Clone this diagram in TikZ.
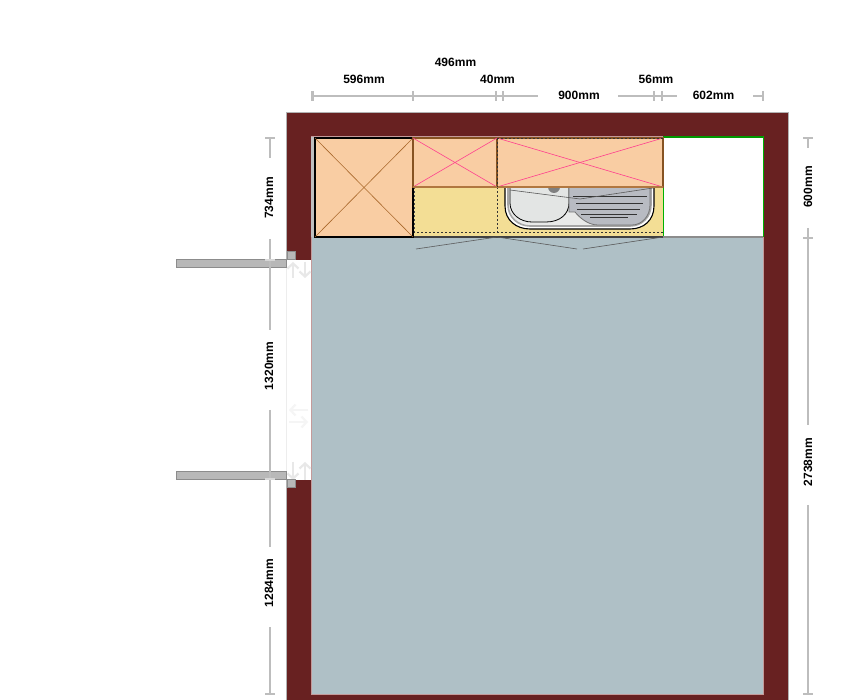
\documentclass[tikz,border=0pt]{standalone}
\usepackage{fontspec}
\setmainfont{Liberation Sans}
\usepackage{xcolor}
\usepackage{tikz}
\usetikzlibrary{positioning}
\usetikzlibrary{arrows.meta}
\definecolor{wallred}{HTML}{682121}
\definecolor{wallrim}{HTML}{C49A9A}
\definecolor{floorblue}{HTML}{AFC0C6}
\definecolor{unitpeach}{HTML}{F9CDA3}
\definecolor{unitbrown}{HTML}{A9682B}
\definecolor{basecream}{HTML}{F3DE95}
\definecolor{crosspink}{HTML}{FF3E8E}
\definecolor{dimgray}{HTML}{BDBDBD}
\definecolor{doorgray}{HTML}{B8B8B8}
\definecolor{sinkleft}{HTML}{E3E5E4}
\definecolor{sinkright}{HTML}{B8BBC2}
\tikzset{dimlabel/.style = {font=\fontsize{12}{14}\bfseries\selectfont, inner sep=0pt}}
\tikzset{dimline/.style = {draw=dimgray, line width=1.6pt}}
\tikzset{wallunit/.style = {rectangle, draw=unitbrown!80!black, line width=1.2pt, fill=unitpeach, inner sep=0pt, outer sep=0pt}}
\tikzset{pinkcross/.style = {draw=crosspink, line width=0.6pt}}
\tikzset{doorleaf/.style = {rectangle, draw=gray!90, line width=1pt, fill=doorgray, inner sep=0pt, outer sep=0pt}}
\tikzset{doorhint/.style = {draw=black!9, line width=2.2pt, -{Straight Barb[length=5pt,width=11pt]}}}
\tikzset{doorhintfaint/.style = {draw=black!4, line width=2.2pt, -{Straight Barb[length=5pt,width=11pt]}}}
\tikzset{frontline/.style = {draw=black!65, line width=0.6pt}}

\begin{document}
\begin{tikzpicture}[x=1pt, y=-1pt]
\useasboundingbox (0, 0) rectangle (860, 700);

% room
\fill [wallred] (286.5, 112) rectangle (788, 700);
\draw [black!30, line width=0.6pt] (286.5, 700) -- (286.5, 112) -- (788, 112) -- (788, 700);
\node [rectangle, draw=wallrim, line width=1pt, fill=floorblue, minimum width=452.5, minimum height=557, inner sep=0pt, outer sep=0pt] (floor) at (537.25, 415.5) {};
\fill [black!25] (311, 137) rectangle (315, 237);

% door gap
\fill [white] (286, 260) rectangle (311, 480);
\draw [black!7, line width=0.6pt] (286, 260) -- (286, 480);
\draw [doorhint] (293, 278) -- (293, 262);
\draw [doorhint] (305, 262) -- (305, 278);
\draw [doorhint] (293, 462) -- (293, 480);
\draw [doorhint] (305, 480) -- (305, 462);
\draw [doorhintfaint] (308, 410) -- (289, 410);
\draw [doorhintfaint] (289, 422) -- (308, 422);
\node [doorleaf, minimum width=110, minimum height=8] (doorA) at (231.5, 264) {};
\node [doorleaf, minimum width=110, minimum height=8] (doorB) at (231.5, 476) {};
\node [doorleaf, minimum size=8] (postA) at (291, 256) {};
\node [doorleaf, minimum size=8] (postB) at (291, 484) {};

% base units and sink
\fill [basecream] (413, 187) rectangle (663, 237);
\draw [black, line width=1.1pt, fill=white] (505, 187) -- (505, 206) .. controls (505, 220) and (516, 229) .. (530, 229) -- (630, 229) .. controls (644, 229) and (654, 220) .. (654, 206) -- (654, 187) -- cycle;
\draw [black!35, line width=1.6pt, fill=sinkleft!80!white] (508, 187) -- (508, 205) .. controls (508, 217) and (518, 226) .. (530, 226) -- (630, 226) .. controls (642, 226) and (651, 217) .. (651, 205) -- (651, 187) -- cycle;
\draw [black, line width=0.8pt, fill=sinkleft] (510, 187) -- (510, 203) .. controls (510, 214) and (520, 222) .. (532, 222) -- (546, 222) .. controls (560, 222) and (569, 214) .. (569, 203) -- (569, 187) -- cycle;
\draw [black!55, line width=0.8pt, fill=sinkright] (569, 187) -- (569, 212) -- (575, 212) .. controls (580, 218) and (588, 225) .. (598, 225) -- (632, 225) .. controls (642, 225) and (650, 216) .. (650, 205) -- (650, 187) -- cycle;
\fill [black!50] (554, 187) circle (6);
\foreach \ya/\xa/\xb in {196/573/647, 203/576/643, 209/577/640, 214/581/637, 217/590/628}
  \draw [black!80, line width=0.7pt] (\xa, \ya) -- (\xb, \ya);
\draw [frontline] (510, 190) -- (580, 199) -- (653, 188);
\draw [black!80, line width=0.6pt, dash pattern=on 2pt off 2pt] (413, 232) -- (663, 232);
\draw [black!70, line width=0.5pt, dash pattern=on 2pt off 2pt] (414.5, 187) -- (414.5, 232);
\draw [black!80, line width=1pt, dash pattern=on 2pt off 2pt] (497, 187) -- (497, 232);
\draw [black!75, line width=1.2pt] (413, 237) -- (663, 237);
\draw [frontline] (497, 237) -- (416, 249);
\draw [frontline] (497, 237) -- (577, 249);
\draw [frontline] (663, 237) -- (583, 249);

% free corner
\node [rectangle, draw=green!70!black, line width=1pt, fill=white, minimum width=100, minimum height=100, inner sep=0pt, outer sep=0pt] (gap) at (713, 187) {};
\draw [green!60!black, line width=1.2pt] (gap.north west) -- (gap.north east);
\draw [black!45, line width=1.3pt] (gap.south west) -- (gap.south east);

% cupboards
\node [rectangle, draw=black, line width=1.2pt, fill=unitpeach, minimum width=98, minimum height=99, inner sep=0pt, outer sep=0pt] (tall) at (364, 187.5) {};
\draw [unitbrown, line width=0.6pt] (tall.north west) -- (tall.south east);
\draw [unitbrown, line width=0.6pt] (tall.north east) -- (tall.south west);
\node [wallunit, minimum width=84, minimum height=49] (upperA) at (455, 162.5) {};
\node [wallunit, minimum width=166, minimum height=49] (upperB) at (580, 162.5) {};
\draw [pinkcross] (upperA.north west) -- (upperA.south east);
\draw [pinkcross] (upperA.north east) -- (upperA.south west);
\draw [pinkcross] (upperB.north west) -- (upperB.south east);
\draw [pinkcross] (upperB.north east) -- (upperB.south west);
\draw [unitbrown!90!white, line width=2pt] (upperA.south west) -- (upperA.south east);
\draw [unitbrown!90!white, line width=2pt] (upperB.south west) -- (upperB.south east);
\draw [black!80, line width=1pt, dash pattern=on 2pt off 2pt] (upperB.north west) -- (upperB.south west);
\draw [black!80, line width=0.6pt, dash pattern=on 2pt off 2pt] (upperB.north west) -- (upperB.north east);

% top dimensions
\node [dimlabel] (d596) at (364, 79) {596mm};
\node [dimlabel] (d496) at (455.5, 62) {496mm};
\node [dimlabel] (d40) at (497.5, 79) {40mm};
\node [dimlabel] (d900) at (579, 95) {900mm};
\node [dimlabel] (d56) at (656, 79) {56mm};
\node [dimlabel] (d602) at (713.5, 95) {602mm};
\coordinate (topA) at (312, 96);
\coordinate (topB) at (538, 96);
\coordinate (topC) at (618, 96);
\coordinate (topD) at (677, 96);
\coordinate (topE) at (753, 96);
\coordinate (topF) at (763, 96);
\draw [dimline] (topA) -- (topB);
\draw [dimline] (topC) -- (topD);
\draw [dimline] (topE) -- (topF);
\draw [dimgray, line width=3pt] (312.5, 91) -- (312.5, 101);
\foreach \xa in {413, 496, 503, 654, 662, 763}
  \draw [dimline] (\xa, 91) -- (\xa, 101);

% left dimensions
\node [dimlabel, rotate=90] (d734) at (269, 198) {734mm};
\node [dimlabel, rotate=90] (d1320) at (269, 366) {1320mm};
\node [dimlabel, rotate=90] (d1284) at (269, 583) {1284mm};
\coordinate (leftA) at (270, 138);
\coordinate (leftB) at (270, 158);
\coordinate (leftC) at (270, 239);
\coordinate (leftD) at (270, 330);
\coordinate (leftE) at (270, 410);
\coordinate (leftF) at (270, 547);
\coordinate (leftG) at (270, 627);
\coordinate (leftH) at (270, 694);
\draw [dimline] (leftA) -- (leftB);
\draw [dimline] (leftC) -- (leftD);
\draw [dimline] (leftE) -- (leftF);
\draw [dimline] (leftG) -- (leftH);
\foreach \ya in {138, 694}
  \draw [dimline] (265, \ya) -- (275, \ya);
\draw [dimgray!60, line width=1.6pt] (265, 260) -- (275, 260);
\draw [dimgray!60, line width=1.6pt] (265, 479) -- (275, 479);

% right dimensions
\node [dimlabel, rotate=90] (d600) at (808, 187) {600mm};
\node [dimlabel, rotate=90] (d2738) at (808, 462) {2738mm};
\coordinate (rightA) at (808, 138);
\coordinate (rightB) at (808, 148);
\coordinate (rightC) at (808, 228);
\coordinate (rightD) at (808, 425);
\coordinate (rightE) at (808, 505);
\coordinate (rightF) at (808, 694);
\draw [dimline] (rightA) -- (rightB);
\draw [dimline] (rightC) -- (rightD);
\draw [dimline] (rightE) -- (rightF);
\foreach \ya in {138, 238, 694}
  \draw [dimline] (803, \ya) -- (813, \ya);
\end{tikzpicture}
\end{document}
